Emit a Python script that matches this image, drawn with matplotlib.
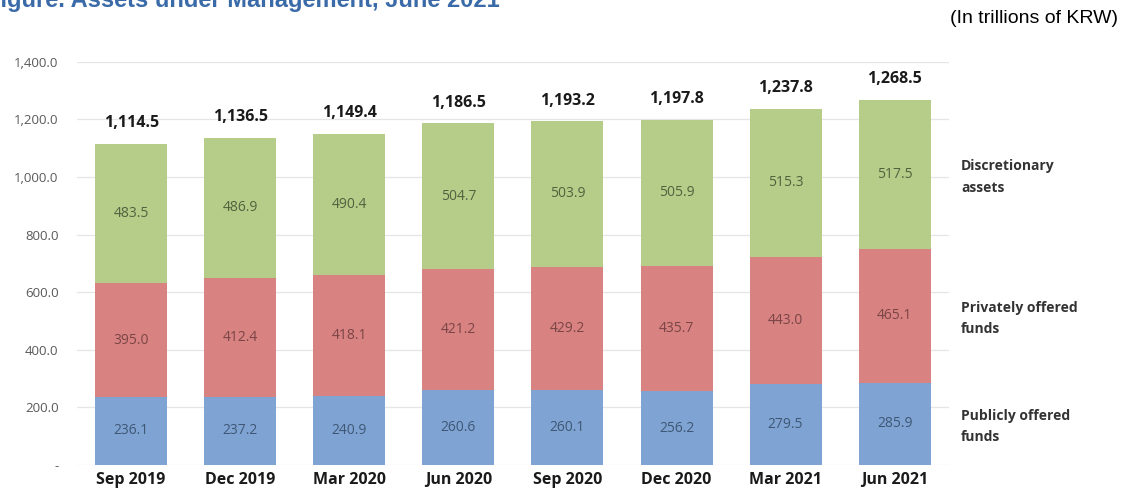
import matplotlib
matplotlib.use("Agg")
import matplotlib.pyplot as plt

plt.rcParams['font.family'] = ['Open Sans', 'DejaVu Sans']

quarters = ["Sep 2019", "Dec 2019", "Mar 2020", "Jun 2020",
            "Sep 2020", "Dec 2020", "Mar 2021", "Jun 2021"]
public_funds = [236.1, 237.2, 240.9, 260.6, 260.1, 256.2, 279.5, 285.9]
private_funds = [395.0, 412.4, 418.1, 421.2, 429.2, 435.7, 443.0, 465.1]
discretionary = [483.5, 486.9, 490.4, 504.7, 503.9, 505.9, 515.3, 517.5]
totals = [1114.5, 1136.5, 1149.4, 1186.5, 1193.2, 1197.8, 1237.8, 1268.5]
series_names = ["Publicly offered\nfunds", "Privately offered\nfunds", "Discretionary\nassets"]

colors = ["#7fa4d3", "#d98282", "#b5cd88"]
text_colors = ["#3f5775", "#7a4545", "#52613f"]

fig = plt.figure(figsize=(11.26, 4.91), dpi=100)
ax = fig.add_axes([0.068, 0.053, 0.775, 0.821])

x = list(range(len(quarters)))
bottom = [0.0] * len(quarters)
for vals, col, tcol, name in zip([public_funds, private_funds, discretionary],
                                 colors, text_colors, series_names):
    ax.bar(x, vals, bottom=bottom, width=0.66, color=col, zorder=2)
    for i, v in enumerate(vals):
        ax.text(i, bottom[i] + v / 2, f"{v:.1f}", ha="center", va="center",
                fontsize=10, color=tcol, zorder=3)
    # series name to the right of last bar
    ax.annotate(name, xy=(x[-1] + 0.33, bottom[-1] + vals[-1] / 2),
                xytext=(22, -2), textcoords="offset points",
                ha="left", va="center", fontsize=10, fontweight="bold",
                color="#333333", linespacing=1.7, annotation_clip=False)
    bottom = [b + v for b, v in zip(bottom, vals)]

for i, t in enumerate(totals):
    ax.annotate(f"{t:,.1f}", xy=(i, bottom[i]), xytext=(0, 15),
                textcoords="offset points", ha="center", va="center",
                fontsize=11.5, fontweight="bold", color="#1a1a1a",
                annotation_clip=False)

ax.set_xlim(-0.5, 7.5)
ax.set_ylim(0, 1400)
ax.set_yticks(range(0, 1401, 200))
ax.set_yticklabels(["-"] + [f"{v:,.1f}" for v in range(200, 1401, 200)])
ax.set_xticks(x)
ax.set_xticklabels(quarters, fontweight="bold", fontsize=11.5)
ax.tick_params(axis="y", length=0, pad=13, labelsize=9.5, labelcolor="#595959")
ax.tick_params(axis="x", length=0, pad=5, labelcolor="#1a1a1a")
ax.grid(axis="y", color="#e5e5e5", linewidth=0.9, zorder=0)
for s in ax.spines.values():
    s.set_visible(False)

# title is cropped at the top edge in the original, keep it that way
fig.text(-0.012, 0.986, "Figure. Assets under Management, June 2021",
         fontsize=17, fontweight="bold", color="#3a6aa8",
         family=["Liberation Sans", "DejaVu Sans"], ha="left", va="baseline")
fig.text(0.993, 0.962, "(In trillions of KRW)", fontsize=14,
         family=["Liberation Sans", "DejaVu Sans"], ha="right", va="center")

fig.savefig("out.png", dpi=100)
